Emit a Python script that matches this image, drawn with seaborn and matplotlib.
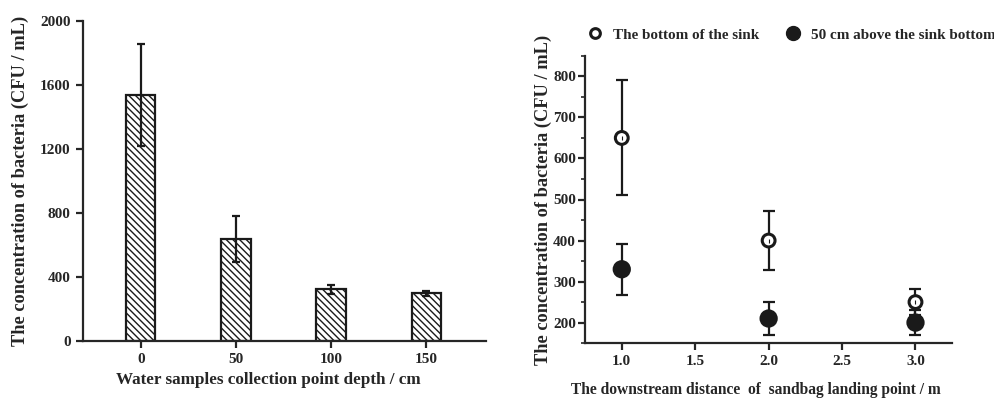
import numpy as np
import pandas as pd
import seaborn as sns
import matplotlib.pyplot as plt
from matplotlib.ticker import MultipleLocator

# left panel: bacteria vs sampling depth
depths = ["0", "50", "100", "150"]
depth_means = [1540, 640, 325, 300]
depth_err = [320, 145, 28, 16]

# right panel: bacteria vs downstream distance
distances = [1.0, 2.0, 3.0]
bottom_means = [650, 400, 250]
bottom_err = [140, 72, 32]
above_means = [330, 210, 200]
above_err = [62, 40, 30]
series_names = ["The bottom of the sink", "50 cm above the sink bottom"]

sns.set_style("ticks")
plt.rcParams['font.family'] = ['Liberation Serif', 'DejaVu Serif']
plt.rcParams['font.weight'] = 'bold'
plt.rcParams['axes.labelweight'] = 'bold'
plt.rcParams['hatch.linewidth'] = 1.0
plt.rcParams['axes.linewidth'] = 1.6

fig = plt.figure(figsize=(9.95, 3.99), dpi=100)
ax1 = fig.add_axes([0.083, 0.145, 0.405, 0.802])
ax2 = fig.add_axes([0.588, 0.140, 0.369, 0.720])

# ---- left: hatched bars
df_depth = pd.DataFrame({"depth": depths, "conc": depth_means})
sns.barplot(x="depth", y="conc", data=df_depth, ax=ax1, color="white",
            edgecolor="#1a1a1a", linewidth=1.6, width=0.31, hatch="\\\\\\\\\\")
ax1.errorbar(range(len(depths)), depth_means, yerr=depth_err, fmt="none",
             ecolor="#1a1a1a", elinewidth=1.6, capsize=3, capthick=1.6)
ax1.set_xlim(-0.61, 3.62)
ax1.set_ylim(0, 2000)
ax1.set_yticks(np.arange(0, 2001, 400))
ax1.set_xlabel("Water samples collection point depth / cm", fontsize=12.3, labelpad=3)
ax1.xaxis.set_label_coords(0.46, -0.095)
ax1.set_ylabel("The concentration of bacteria (CFU / mL)", fontsize=13.2, labelpad=8)
sns.despine(ax=ax1)

# ---- right: points with error bars
df_dist = pd.DataFrame({
    "distance": distances * 2,
    "conc": bottom_means + above_means,
    "err": bottom_err + above_err,
    "series": [series_names[0]] * 3 + [series_names[1]] * 3,
})
for name, sub in df_dist.groupby("series", sort=False):
    ax2.errorbar(sub["distance"], sub["conc"], yerr=sub["err"], fmt="none",
                 ecolor="#1a1a1a", elinewidth=1.6, capsize=4, capthick=1.6, zorder=1)
sns.scatterplot(x="distance", y="conc", hue="series", size="series", data=df_dist,
                ax=ax2, palette={series_names[0]: "white", series_names[1]: "#1a1a1a"},
                sizes={series_names[0]: 85, series_names[1]: 120},
                edgecolor="#1a1a1a", linewidth=2.2, zorder=3, legend=False)
ax2.scatter(df_dist["distance"][:3], df_dist["conc"][:3], marker="|", s=5,
            color="#1a1a1a", linewidth=0.8, zorder=4)
ax2.set_xlim(0.75, 3.25)
ax2.set_ylim(150, 850)
ax2.set_xticks([1.0, 1.5, 2.0, 2.5, 3.0])
ax2.set_yticks(np.arange(200, 801, 100))
ax2.yaxis.set_minor_locator(MultipleLocator(50))
ax2.set_xlabel("The downstream distance  of  sandbag landing point / m", fontsize=11.2)
ax2.xaxis.set_label_coords(0.465, -0.135)
ax2.set_ylabel("The concentration of bacteria (CFU / mL)", fontsize=13.2, labelpad=1)
sns.despine(ax=ax2)

# legend above the right panel
h_open = plt.Line2D([], [], marker="o", ls="none", markersize=7, markerfacecolor="white",
                    markeredgecolor="#1a1a1a", markeredgewidth=2.2)
h_fill = plt.Line2D([], [], marker="o", ls="none", markersize=10, markerfacecolor="#1a1a1a",
                    markeredgecolor="#1a1a1a")
leg = fig.legend([h_open, h_fill], series_names, loc="center left",
                 bbox_to_anchor=(587 / 995, 1 - 35 / 399), ncol=2, frameon=False,
                 fontsize=10.9, borderpad=0, borderaxespad=0, handlelength=1.0,
                 handletextpad=0.7, columnspacing=1.75)
for t in leg.get_texts():
    t.set_fontweight("bold")

for ax in (ax1, ax2):
    ax.tick_params(which="major", direction="out", length=5, width=1.6, labelsize=11)
    ax.tick_params(which="minor", direction="out", length=3, width=1.2)
    for lbl in ax.get_xticklabels() + ax.get_yticklabels():
        lbl.set_fontweight("bold")
ax2.tick_params(axis="y", which="major", pad=1.5)

fig.savefig("out.png", dpi=100)
